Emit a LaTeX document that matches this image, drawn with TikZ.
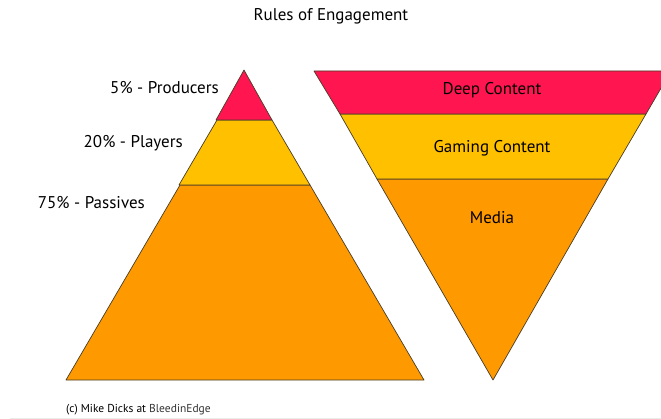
\documentclass[tikz,border=0pt]{standalone}
\usepackage{fontspec}
\setmainfont{PT Sans}
\definecolor{layred}{RGB}{255,22,80}
\definecolor{layyellow}{RGB}{255,192,0}
\definecolor{layorange}{RGB}{255,153,0}
\definecolor{edgecol}{RGB}{70,60,40}
\begin{document}
\begin{tikzpicture}[x=1pt,y=-1pt,
  layer/.style={draw=edgecol,line width=0.7pt,line join=round},
  lbl/.style={font=\fontsize{17}{19}\selectfont,inner sep=0pt},
  side/.style={lbl,anchor=east},
  inlbl/.style={lbl,anchor=center}]
\useasboundingbox (0,0) rectangle (661,419);
\begin{scope}
\clip (0,0) rectangle (661,419);
% pyramid
\filldraw[layer,fill=layorange] (180,185) -- (310,185) -- (424,380) -- (66,380) -- cycle;
\filldraw[layer,fill=layyellow] (217,120) -- (272,120) -- (310,185) -- (179,185) -- cycle;
\filldraw[layer,fill=layred] (244,70) -- (272,120) -- (216,120) -- cycle;
% inverted pyramid
\filldraw[layer,fill=layorange] (377,179) -- (608,179) -- (493,380) -- cycle;
\filldraw[layer,fill=layyellow] (340,114) -- (646,114) -- (608,179) -- (377,179) -- cycle;
\filldraw[layer,fill=layred] (314,71) -- (671,71) -- (646,114) -- (340,114) -- cycle;
\end{scope}
\draw[black!8,line width=0.6pt] (10,418) -- (661,418);
% labels
\node[lbl] (title) at (331,16) {Rules of Engagement};
\node[side] (prod) at (219,88) {5\% - Producers};
\node[side] (play) at (183,143) {20\% - Players};
\node[side] (pass) at (145,203) {75\% - Passives};
\node[inlbl] (deep) at (492,90) {Deep Content};
\node[inlbl] (gaming) at (492,148) {Gaming Content};
\node[inlbl] (media) at (492,218) {Media};
\node[lbl,anchor=west,font=\fontsize{11.5}{13}\selectfont] (copy) at (66,410) {(c) Mike Dicks at \textcolor{black!80}{BleedinEdge}};
\end{tikzpicture}
\end{document}
